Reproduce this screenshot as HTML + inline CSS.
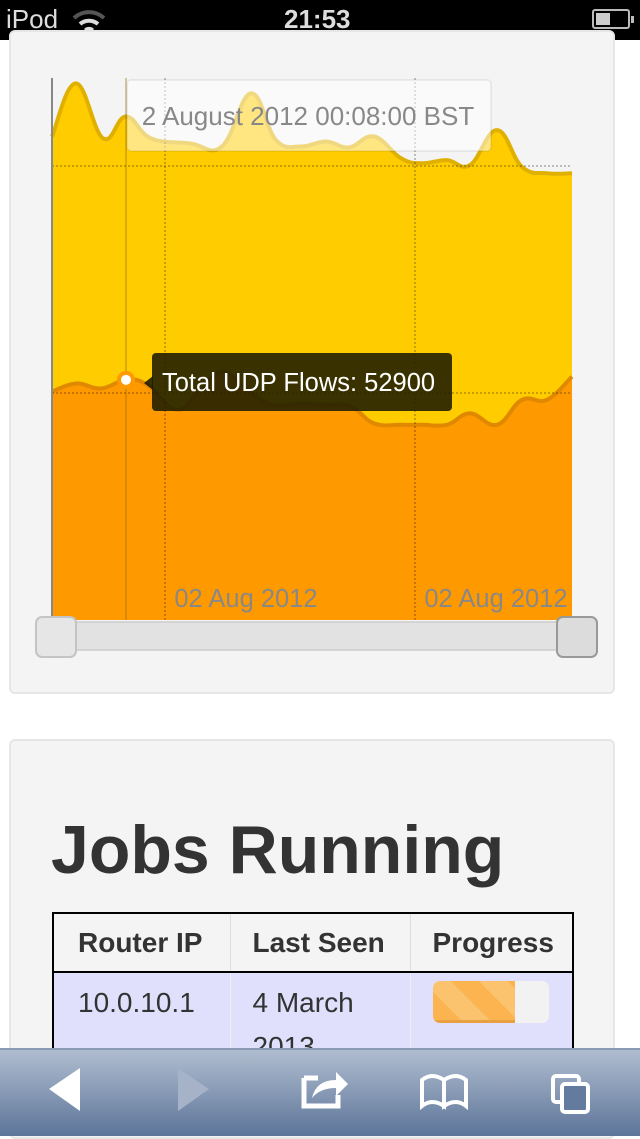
<!DOCTYPE html>
<html><head><meta charset="utf-8">
<style>
*{box-sizing:border-box;margin:0;padding:0}
body{width:640px;height:1136px;overflow:hidden;background:#fff;font-family:"Liberation Sans",sans-serif;position:relative}
.status{position:absolute;left:0;top:0;width:640px;height:40px;background:#000;color:#ddd;font-size:26px}
.panel{position:absolute;left:9px;width:606px;background:#f4f4f4;border:2px solid #e6e6e6;border-radius:6px}
.toolbar{position:absolute;left:0;top:1048px;width:640px;height:88px;background:linear-gradient(#b0bdd0,#5d7599);border-top:2px solid #8a9ab3}
table{border-collapse:collapse}
</style></head><body>
<div class="status">
  <span style="position:absolute;left:6px;top:4px">iPod</span>
  <svg style="position:absolute;left:72px;top:8px" width="34" height="26"><path d="M2 10 A22 22 0 0 1 32 10" stroke="#555" stroke-width="4" fill="none"/><path d="M8 16 A14 14 0 0 1 26 16" stroke="#ddd" stroke-width="4" fill="none"/><path d="M12 21 L17 26 L22 21 A7 7 0 0 0 12 21Z" fill="#ddd"/></svg>
  <span style="position:absolute;left:284px;top:4px;font-weight:bold">21:53</span>
  <div style="position:absolute;left:592px;top:9px;width:38px;height:20px;border:2px solid #bbb;border-radius:3px"><div style="position:absolute;left:2px;top:2px;width:14px;height:12px;background:#ccc"></div><div style="position:absolute;right:-6px;top:5px;width:3px;height:7px;background:#bbb"></div></div>
</div>

<div class="panel" style="top:30px;height:664px"></div>

<svg id="chart" style="position:absolute;left:0;top:0" width="640" height="700"></svg>

<div class="panel" style="top:739px;height:400px">
  <div style="position:absolute;left:40px;top:70px;font-size:68px;font-weight:bold;color:#333">Jobs Running</div>
  <table style="position:absolute;left:41px;top:171px;width:522px;font-size:28px;color:#333;border:2px solid #000">
    <tr style="height:59px;border-bottom:2px solid #000">
      <th style="width:177px;text-align:left;padding-left:24px;border-right:1px solid #ddd">Router IP</th>
      <th style="width:180px;text-align:left;padding-left:22px;border-right:1px solid #ddd">Last Seen</th>
      <th style="text-align:left;padding-left:22px">Progress</th>
    </tr>
    <tr style="height:120px;background:#e0e0fc;vertical-align:top">
      <td style="padding:14px 0 0 24px;border-right:1px solid #eee">10.0.10.1</td>
      <td style="padding:14px 0 0 22px;line-height:44px;border-right:1px solid #eee"><div style="margin-top:-6px">4 March<br>2013</div></td>
      <td style="padding:8px 0 0 22px">
        <div style="width:116px;height:42px;background:#f2f2f2;border-radius:7px;overflow:hidden"><div style="width:82px;height:42px;background:repeating-linear-gradient(45deg,#fbb450 0 20px,#fcc36e 20px 40px);border-bottom:3px solid #e9a040"></div></div>
      </td>
    </tr>
  </table>
</div>

<div class="toolbar">
  <svg width="640" height="88" style="position:absolute;left:0;top:0">
    <polygon points="49,39 80,18 80,61" fill="#fff"/>
    <polygon points="209,39 178,18 178,61" fill="#a5b2c8"/>
    <g><path d="M304 28 H318 M304 28 V56 H338 V45" stroke="#fff" stroke-width="5" fill="none"/><path d="M312 48 Q316 30 336 30 V22 L348 34 L336 46 V38 Q320 38 312 48Z" fill="#fff"/></g>
    <g stroke="#fff" stroke-width="4" fill="none"><path d="M422 30 Q432 22 444 30 V56 Q432 48 422 56Z"/><path d="M444 30 Q456 22 466 30 V56 Q456 48 444 56Z"/></g>
    <g stroke="#fff" stroke-width="4" fill="none"><rect x="553" y="26" width="26" height="26" rx="3"/><rect x="562" y="34" width="26" height="28" rx="3" fill="#637b9e"/></g>
  </svg>
</div>

<script>
const ticks=[50000,100000];
const xLabels=["02 Aug 2012","02 Aug 2012"];
const xLabelMinutes=[113,363];
const totalMinutes=[0,24,51,74,99,138,170,199,224,249,274,297,322,349,370,395,418,445,470,495,520];
const totalFlows=[106500,118200,106100,110900,106100,105000,104300,116000,105700,104300,105400,104100,106500,101700,100600,101300,100200,107900,99800,98400,98400];
const udpMinutes=[0,24,49,74,95,124,145,170,195,220,249,274,299,322,349,370,395,418,445,470,495,520];
const udpFlows=[50300,52100,51000,52900,51800,46300,49900,54700,50700,47400,47700,47400,47000,43300,43000,43000,43000,45500,43000,48500,48500,53600];
const hoverIndex=3;
const NS="http://www.w3.org/2000/svg";
const svg=document.getElementById('chart');
const X0=52,X1=572,Y0=620;
const xs=m=>X0+(m/520)*(X1-X0);
const ys=v=>Y0-v*0.00454;
function mk(t,a,p){const e=document.createElementNS(NS,t);for(const k in a)e.setAttribute(k,a[k]);(p||svg).appendChild(e);return e;}
function curve(mins,vals){
  const p=mins.map((m,i)=>[xs(m),ys(vals[i])]);
  let d="M"+p[0][0]+","+p[0][1];
  for(let i=0;i<p.length-1;i++){
    const p0=p[i-1]||p[i],p1=p[i],p2=p[i+1],p3=p[i+2]||p2,k=0.2;
    d+=" C"+(p1[0]+(p2[0]-p0[0])*k)+","+(p1[1]+(p2[1]-p0[1])*k)+" "+(p2[0]-(p3[0]-p1[0])*k)+","+(p2[1]-(p3[1]-p1[1])*k)+" "+p2[0]+","+p2[1];
  }
  return d;
}
function areaPath(mins,vals){return "M"+xs(mins[0])+","+Y0+" L"+curve(mins,vals).slice(1)+" L"+xs(mins[mins.length-1])+","+Y0+"Z";}
let e;
e=mk('path',{d:areaPath(totalMinutes,totalFlows),fill:'#ffcc00'});


e=mk('path',{d:curve(totalMinutes,totalFlows),fill:'none',stroke:'#e0b000','stroke-width':4,'stroke-linejoin':'round'});


e=mk('path',{d:areaPath(udpMinutes,udpFlows),fill:'#ff9900'});


e=mk('path',{d:curve(udpMinutes,udpFlows),fill:'none',stroke:'#e08800','stroke-width':4,'stroke-linejoin':'round'});


ticks.forEach(t=>{
  e=mk('line',{x1:X0,x2:X1,y1:ys(t),y2:ys(t),stroke:'rgba(0,0,0,0.3)','stroke-dasharray':'2,2','stroke-width':1.5});
  
  
});
xLabelMinutes.forEach((m,i)=>{
  e=mk('line',{x1:xs(m),x2:xs(m),y1:78,y2:Y0,stroke:'rgba(0,0,0,0.3)','stroke-dasharray':'2,2','stroke-width':1.5});
  
  
  e=mk('text',{x:xs(m)+81,y:607,'text-anchor':'middle','font-size':25.5,fill:'#888','font-family':'Liberation Sans'});
  e.textContent=xLabels[i];
  
  
});
e=mk('line',{x1:X0,x2:X0,y1:78,y2:Y0,stroke:'#888','stroke-width':2});


const hx=xs(udpMinutes[hoverIndex]),hy=ys(udpFlows[hoverIndex]);
e=mk('line',{x1:hx,x2:hx,y1:78,y2:Y0,stroke:'rgba(150,110,0,0.35)','stroke-width':2});


e=mk('rect',{x:127,y:80,width:364,height:71,rx:4,fill:'rgba(255,255,255,0.5)',stroke:'rgba(0,0,0,0.06)','stroke-width':2});


e=mk('text',{x:308,y:125,'text-anchor':'middle','font-size':26,fill:'#888','font-family':'Liberation Sans'});
e.textContent="2 August 2012 00:08:00 BST";


e=mk('circle',{cx:hx,cy:hy,r:7,fill:'#fff',stroke:'#ff9900','stroke-width':4});


e=mk('path',{d:'M144,383 L153,376 L153,390Z',fill:'rgba(20,20,0,0.85)'});


e=mk('rect',{x:152,y:353,width:300,height:58,rx:4,fill:'rgba(30,28,0,0.88)'});


e=mk('text',{x:162,y:391,'font-size':25.5,fill:'#fff','font-family':'Liberation Sans'});
e.textContent="Total UDP Flows: "+udpFlows[hoverIndex];


e=mk('rect',{x:40,y:622,width:556,height:28,fill:'#e2e2e2',stroke:'#ccc','stroke-width':1.5});


e=mk('rect',{x:36,y:617,width:40,height:40,rx:6,fill:'#e6e6e6',stroke:'#c4c4c4','stroke-width':2});


e=mk('rect',{x:557,y:617,width:40,height:40,rx:6,fill:'#dcdcdc',stroke:'#999','stroke-width':2});


</script>
</body></html>
